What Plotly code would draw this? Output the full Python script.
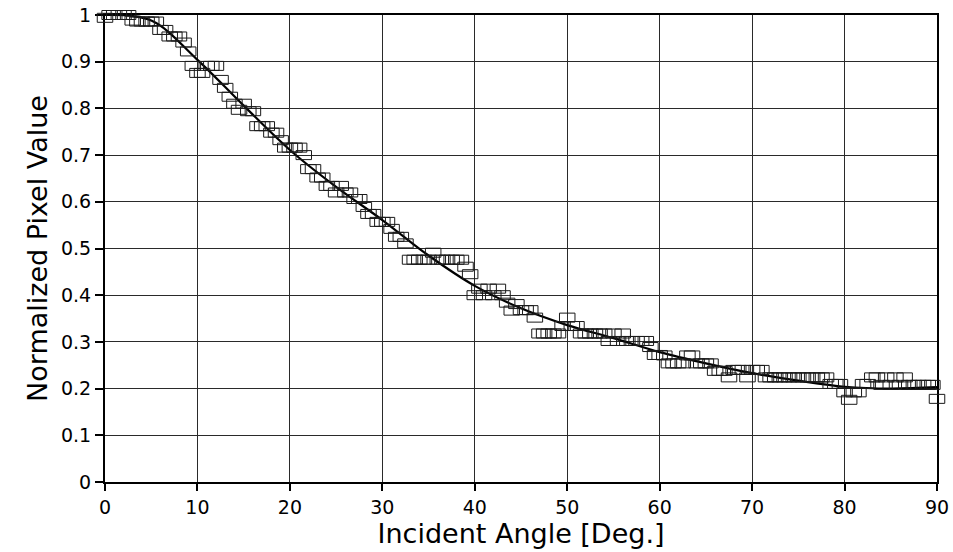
import plotly.graph_objects as go

# Measured normalized pixel value vs. incident angle (0.5 deg steps)
angle_deg = [i * 0.5 for i in range(181)]
pixel_value = [
    0.994, 1.0, 1.0, 1.0, 1.0, 1.0, 0.988, 0.986, 0.986, 0.986,      # 0 - 4.5
    0.986, 0.986, 0.968, 0.968, 0.954, 0.954, 0.954, 0.941, 0.922, 0.891,  # 5 - 9.5
    0.876, 0.876, 0.891, 0.891, 0.891, 0.861, 0.844, 0.825, 0.810, 0.797,  # 10 - 14.5
    0.810, 0.794, 0.794, 0.762, 0.762, 0.762, 0.748, 0.748, 0.732, 0.716,  # 15 - 19.5
    0.716, 0.716, 0.716, 0.700, 0.670, 0.670, 0.652, 0.652, 0.634, 0.634,  # 20 - 24.5
    0.620, 0.634, 0.620, 0.620, 0.606, 0.606, 0.589, 0.574, 0.574, 0.557,  # 25 - 29.5
    0.557, 0.557, 0.542, 0.525, 0.525, 0.511, 0.476, 0.476, 0.476, 0.476,  # 30 - 34.5
    0.476, 0.491, 0.476, 0.476, 0.476, 0.476, 0.476, 0.476, 0.461, 0.445,  # 35 - 39.5
    0.400, 0.414, 0.400, 0.414, 0.400, 0.414, 0.400, 0.384, 0.367, 0.381,  # 40 - 44.5
    0.368, 0.368, 0.368, 0.352, 0.318, 0.318, 0.318, 0.318, 0.318, 0.334,  # 45 - 49.5
    0.352, 0.334, 0.334, 0.318, 0.318, 0.318, 0.318, 0.318, 0.318, 0.302,  # 50 - 54.5
    0.318, 0.302, 0.318, 0.302, 0.302, 0.302, 0.302, 0.302, 0.289, 0.272,  # 55 - 59.5
    0.272, 0.271, 0.254, 0.254, 0.254, 0.254, 0.271, 0.271, 0.254, 0.254,  # 60 - 64.5
    0.254, 0.254, 0.238, 0.238, 0.238, 0.224, 0.240, 0.240, 0.240, 0.224,  # 65 - 69.5
    0.240, 0.240, 0.240, 0.224, 0.224, 0.224, 0.224, 0.224, 0.224, 0.224,  # 70 - 74.5
    0.224, 0.224, 0.224, 0.224, 0.224, 0.224, 0.224, 0.210, 0.210, 0.210,  # 75 - 79.5
    0.192, 0.176, 0.192, 0.192, 0.210, 0.210, 0.224, 0.224, 0.208, 0.224,  # 80 - 84.5
    0.208, 0.224, 0.208, 0.224, 0.208, 0.208, 0.208, 0.208, 0.208, 0.208,  # 85 - 89.5
    0.178,                                                               # 90
]

# Smooth fitted trend, sampled every 5 deg
fit_angle = [0, 5, 10, 15, 20, 25, 30, 35, 40, 45, 50, 55, 60, 65, 70, 75, 80, 85, 90]
fit_value = [1.0, 0.988, 0.904, 0.806, 0.711, 0.632, 0.561, 0.485, 0.420, 0.372,
             0.336, 0.308, 0.278, 0.254, 0.233, 0.217, 0.204, 0.200, 0.203]

x_ticks = list(range(0, 91, 10))
y_ticks = [round(0.1 * i, 1) for i in range(11)]

# Figure geometry (pixels)
W, H = 953, 552
ML, MR, MT, MB = 95, 6, 5, 60          # outer margins
PL, PR, PT, PB = 105, 937, 15, 482     # inner plot box
BOX_W, BOX_H = 15.5, 9.0               # open rectangle marker size

paper_w = W - ML - MR
paper_h = H - MT - MB
x_dom = [(PL - ML) / paper_w, (PR - ML) / paper_w]
y_dom = [(H - MB - PB) / paper_h, (H - MB - PT) / paper_h]

x_rng = [0, 90]
y_rng = [0, 1]
x_per_px = (x_rng[1] - x_rng[0]) / (PR - PL)
y_per_px = (y_rng[1] - y_rng[0]) / (PB - PT)

# A second, invisible subplot spans the whole paper with the same scale as the
# main box, so the rectangles at the edges are not cut by the frame
x2_rng = [x_rng[0] - (PL - ML) * x_per_px, x_rng[1] + (W - MR - PR) * x_per_px]
y2_rng = [y_rng[0] - (H - MB - PB) * y_per_px, y_rng[1] + (PT - MT) * y_per_px]

hw = BOX_W / 2 * x_per_px
hh = BOX_H / 2 * y_per_px
bx, by = [], []
for a, v in zip(angle_deg, pixel_value):
    bx += [a - hw, a + hw, a + hw, a - hw, a - hw, None]
    by += [v - hh, v - hh, v + hh, v + hh, v - hh, None]

fig = go.Figure()
fig.add_trace(go.Scatter(
    x=fit_angle, y=fit_value, mode="lines", xaxis="x", yaxis="y",
    line=dict(color="black", width=2.2, shape="spline", smoothing=1.0),
    showlegend=False,
))
fig.add_trace(go.Scatter(
    x=bx, y=by, mode="lines", xaxis="x2", yaxis="y2",
    line=dict(color="#1a1a1a", width=1), hoverinfo="skip", showlegend=False,
))

font_family = "DejaVu Sans"
axis_common = dict(
    showline=True, linecolor="black", linewidth=2, mirror=True,
    showgrid=True, gridcolor="#2a2a2a", gridwidth=1,
    ticks="outside", tickcolor="black", tickwidth=1.5,
    zeroline=False, automargin=False,
    tickfont=dict(family=font_family, size=19, color="black"),
)

fig.update_layout(
    width=W, height=H,
    margin=dict(l=ML, r=MR, t=MT, b=MB, pad=0, autoexpand=False),
    paper_bgcolor="white", plot_bgcolor="rgba(0,0,0,0)",
    font=dict(family=font_family, color="black"),
    xaxis=dict(
        domain=x_dom, range=x_rng, tickvals=x_ticks, ticklen=7,
        title=dict(text="Incident Angle [Deg.]", font=dict(size=27), standoff=4),
        **axis_common,
    ),
    yaxis=dict(
        domain=y_dom, range=y_rng, tickvals=y_ticks, ticklen=8,
        title=dict(text="Normalized Pixel Value", font=dict(size=27), standoff=6),
        **axis_common,
    ),
    xaxis2=dict(domain=[0, 1], range=x2_rng, anchor="y2",
                visible=False, fixedrange=True, automargin=False),
    yaxis2=dict(domain=[0, 1], range=y2_rng, anchor="x2",
                visible=False, fixedrange=True, automargin=False),
)

fig.write_html("out.html")
